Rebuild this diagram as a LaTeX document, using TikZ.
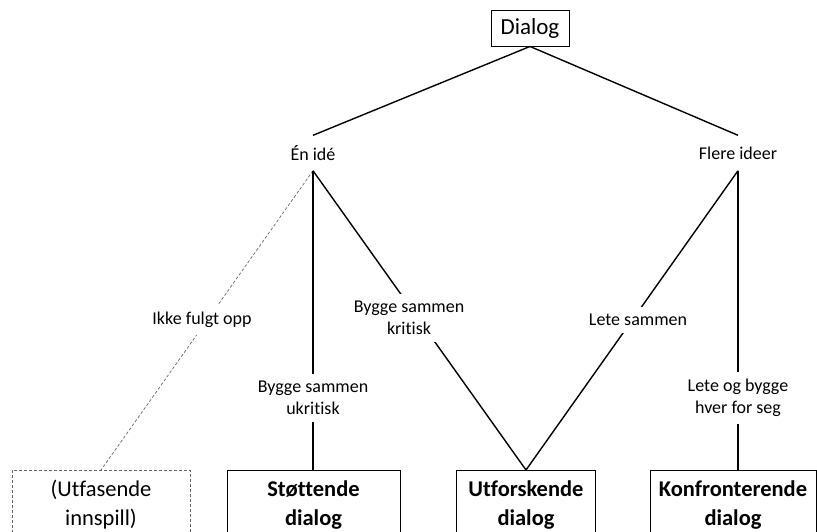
\documentclass[tikz,border=0pt]{standalone}
\usepackage{fontspec}
\setmainfont{Carlito}[Ligatures=NoCommon]
\begin{document}
\begin{tikzpicture}[x=1pt,y=-1pt,
  lbl/.style={font=\fontsize{18}{22.5}\selectfont, align=center, fill=white, inner xsep=3pt, inner ysep=7pt},
  topbox/.style={draw, line width=0.9pt, font=\fontsize{23}{26}\selectfont, minimum height=36pt, minimum width=78pt, inner sep=0pt},
  mid/.style={font=\fontsize{18}{20}\selectfont, minimum height=35pt, inner sep=0pt},
  res/.style={draw, line width=0.9pt, minimum height=69pt, anchor=north, align=center, inner sep=0pt},
  conn/.style={line width=1.4pt},
  dconn/.style={line width=0.7pt, gray!80!black, dash pattern=on 3pt off 2pt}]
\useasboundingbox (0,0) rectangle (817,531);
\clip (0,0) rectangle (817,531);
\node[topbox] (dialog) at (530,28) {Dialog};
\node[mid] (en) at (313,153) {Én idé};
\node[mid] (flere) at (738,153) {Flere ideer};
\node[res, dconn, text=black, minimum width=178pt, font=\fontsize{22.5}{29}\selectfont] (utfa) at (101,470) {(Utfasende\\innspill)};
\node[res, minimum width=173pt, font=\fontsize{22.5}{29}\selectfont\bfseries] (stot) at (313.5,470) {Støttende\\dialog};
\node[res, minimum width=139pt, font=\fontsize{22.5}{29}\selectfont\bfseries] (utfo) at (526,470) {Utforskende\\dialog};
\node[res, minimum width=166pt, font=\fontsize{22.5}{29}\selectfont\bfseries] (konf) at (733,470) {Konfronterende\\dialog};
\draw[conn] (dialog.south) -- (en.north);
\draw[conn] (dialog.south) -- (flere.north);
\draw[dconn] (en.south) -- (utfa.north);
\draw[conn] (en.south) -- (en.south |- stot.north);
\draw[conn] (en.south) -- (utfo.north);
\draw[conn] (flere.south) -- (utfo.north);
\draw[conn] (flere.south) -- (flere.south |- konf.north);
\node[lbl] (l1) at (202,320) {Ikke fulgt opp};
\node[lbl] (l2) at (313,398) {Bygge sammen\\ukritisk};
\node[lbl] (l3) at (409,318) {Bygge sammen\\kritisk};
\node[lbl] (l4) at (638,320) {Lete sammen};
\node[lbl] (l5) at (738,398) {Lete og bygge\\hver for seg};
\end{tikzpicture}
\end{document}
